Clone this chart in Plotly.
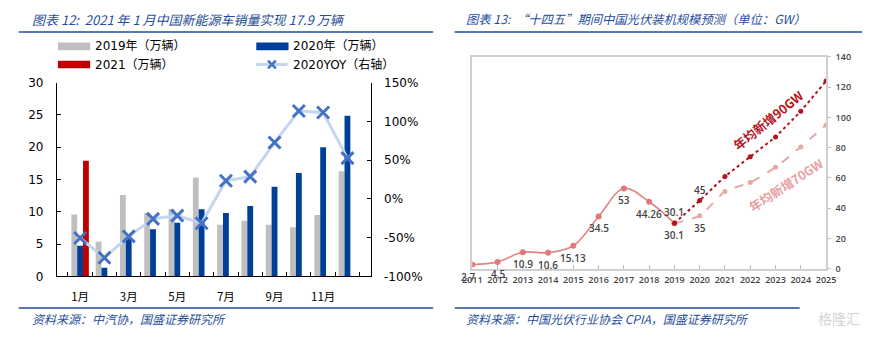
import plotly.graph_objects as go

W, H = 881, 338


def px(x):
    return x / W


def py(y):
    return 1 - y / H


# ---------------- data: left chart ----------------
months = ["1月", "2月", "3月", "4月", "5月", "6月", "7月", "8月", "9月", "10月", "11月", "12月"]
month_ticktext = ["1月", "", "3月", "", "5月", "", "7月", "", "9月", "", "11月", ""]
sales_2019 = [9.6, 5.35, 12.6, 9.8, 10.4, 15.3, 8.0, 8.6, 8.0, 7.6, 9.5, 16.3]
sales_2020 = [4.75, 1.35, 5.8, 7.3, 8.3, 10.4, 9.8, 10.9, 13.9, 16.0, 20.0, 24.9]
sales_2021 = [17.9, None, None, None, None, None, None, None, None, None, None, None]
yoy_2020 = [-50.5, -76.0, -48.4, -25.7, -21.6, -31.5, 23.5, 28.7, 72.9, 113.5, 111.6, 52.6]
left_ticks = [0, 5, 10, 15, 20, 25, 30]
right_tickvals = [-100, -50, 0, 50, 100, 150]
right_ticktext = ["-100%", "-50%", "0%", "50%", "100%", "150%"]

# ---------------- data: right chart ----------------
hist_years = [2011, 2012, 2013, 2014, 2015, 2016, 2017, 2018, 2019]
hist_vals = [2.7, 4.5, 10.9, 10.6, 15.13, 34.5, 53, 44.26, 30.1]
proj_years = [2019, 2020, 2021, 2022, 2023, 2024, 2025]
proj_90 = [30.1, 45, 61, 74, 87, 104, 124]
proj_70 = [30.1, 35, 51, 57, 67, 80.5, 95]

TITLE_BLUE = "#1f4e9c"
CJK = "Noto Sans CJK SC"
LAT = "DejaVu Sans, Noto Sans CJK SC"

fig = go.Figure()

# left chart bars
fig.add_trace(go.Bar(x=months, y=sales_2019, name="2019年（万辆）", marker=dict(color="#bfbfbf", line=dict(width=0)),
                     xaxis="x", yaxis="y"))
fig.add_trace(go.Bar(x=months, y=sales_2020, name="2020年（万辆）", marker=dict(color="#003f98", line=dict(width=0)),
                     xaxis="x", yaxis="y"))
fig.add_trace(go.Bar(x=months, y=sales_2021, name="2021（万辆）", marker=dict(color="#c00000", line=dict(width=0)),
                     xaxis="x", yaxis="y"))
fig.add_trace(go.Scatter(x=months, y=yoy_2020, name="2020YOY（右轴）", mode="lines+markers",
                         line=dict(color="#c3d5ef", width=3),
                         marker=dict(symbol="x-thin", size=12, color="#4472c4", line=dict(width=3, color="#4472c4")),
                         xaxis="x", yaxis="y2"))

# right chart lines
fig.add_trace(go.Scatter(x=hist_years, y=hist_vals, mode="lines+markers",
                         line=dict(color="#e28585", width=1.6, shape="spline", smoothing=1),
                         marker=dict(size=6, color="#e07a7a"), xaxis="x2", yaxis="y3"))
fig.add_trace(go.Scatter(x=proj_years, y=proj_70, mode="lines+markers",
                         line=dict(color="#eba5a5", width=2, dash="dash", shape="spline", smoothing=0.7),
                         marker=dict(size=5, color="#eba5a5"), xaxis="x2", yaxis="y3"))
fig.add_trace(go.Scatter(x=proj_years, y=proj_90, mode="lines+markers",
                         line=dict(color="#b5121b", width=2, dash="dot"),
                         marker=dict(size=5, color="#b5121b"), xaxis="x2", yaxis="y3"))

annotations = []
shapes = []

# titles
annotations.append(dict(xref="paper", yref="paper", x=px(20), y=py(13), xanchor="left", yanchor="middle",
                        text="图表 12:  2021 年 1 月中国新能源车销量实现 17.9 万辆", showarrow=False,
                        font=dict(family=CJK, size=13, color=TITLE_BLUE, style="italic")))
annotations.append(dict(xref="paper", yref="paper", x=px(465), y=py(13), xanchor="left", yanchor="middle",
                        text="图表 13:  “十四五”期间中国光伏装机规模预测（单位：GW）", showarrow=False,
                        font=dict(family=CJK, size=12.3, color=TITLE_BLUE, style="italic")))
# sources
annotations.append(dict(xref="paper", yref="paper", x=px(20), y=py(325), xanchor="left", yanchor="middle",
                        text="资料来源：中汽协，国盛证券研究所", showarrow=False,
                        font=dict(family=CJK, size=12, color=TITLE_BLUE, style="italic")))
annotations.append(dict(xref="paper", yref="paper", x=px(465), y=py(325), xanchor="left", yanchor="middle",
                        text="资料来源：中国光伏行业协会 CPIA，国盛证券研究所", showarrow=False,
                        font=dict(family=CJK, size=12, color=TITLE_BLUE, style="italic")))
annotations.append(dict(xref="paper", yref="paper", x=px(848), y=py(324), xanchor="center", yanchor="middle",
                        text="格隆汇", showarrow=False,
                        font=dict(family=CJK, size=14, color="#d4d4d4")))

# rules
for x0, x1, y in [(9, 433, 26), (455, 872, 26), (9, 433, 314), (455, 808, 314)]:
    shapes.append(dict(type="line", xref="paper", yref="paper", x0=px(x0), x1=px(x1), y0=py(y), y1=py(y),
                       line=dict(color=TITLE_BLUE, width=1.5)))

# manual legend (left chart)
legend_rects = [(49, 41, "#bfbfbf", "2019年（万辆）"), (252, 41, "#003f98", "2020年（万辆）"),
                (49, 60, "#c00000", "2021（万辆）")]
for x0, yc, col, label in legend_rects:
    shapes.append(dict(type="rect", xref="paper", yref="paper", x0=px(x0), x1=px(x0 + 33), y0=py(yc + 4),
                       y1=py(yc - 4), fillcolor=col, line=dict(width=0)))
    annotations.append(dict(xref="paper", yref="paper", x=px(x0 + 36), y=py(yc), xanchor="left", yanchor="middle",
                            text=label, showarrow=False, font=dict(family=LAT, size=12, color="black")))
shapes.append(dict(type="line", xref="paper", yref="paper", x0=px(252), x1=px(284), y0=py(60), y1=py(60),
                   line=dict(color="#c3d5ef", width=3)))
for dx1, dy1, dx2, dy2 in [(-4, -4, 4, 4), (-4, 4, 4, -4)]:
    shapes.append(dict(type="line", xref="paper", yref="paper", x0=px(268 + dx1), x1=px(268 + dx2),
                       y0=py(60 + dy1), y1=py(60 + dy2), line=dict(color="#4472c4", width=2.5)))
annotations.append(dict(xref="paper", yref="paper", x=px(288), y=py(60), xanchor="left", yanchor="middle",
                        text="2020YOY（右轴）", showarrow=False, font=dict(family=LAT, size=12, color="black")))

# right chart data labels
lab_font = dict(family="Open Sans, Noto Sans CJK SC", size=10, color="#444444", weight=600)
for i, (yr, v) in enumerate(zip(hist_years, hist_vals)):
    annotations.append(dict(xref="x2", yref="y3", x=yr, y=v, text=f"{v:g}", showarrow=False,
                            xanchor="center", yanchor="middle",
                            yshift=-12, xshift=(-4 if i == 0 else 0), font=lab_font))
for yr, v in zip(proj_years[:2], proj_90[:2]):
    annotations.append(dict(xref="x2", yref="y3", x=yr, y=v, text=f"{v:g}", showarrow=False,
                            xanchor="center", yanchor="middle", yshift=11, font=lab_font))
annotations.append(dict(xref="x2", yref="y3", x=proj_years[1], y=proj_70[1], text=f"{proj_70[1]:g}",
                        showarrow=False, xanchor="center", yanchor="middle", yshift=-12, font=lab_font))

annotations.append(dict(xref="paper", yref="paper", x=px(776), y=py(117), xanchor="center", yanchor="middle",
                        text="年均新增90GW", showarrow=False,
                        textangle=-39, font=dict(family=CJK, size=12.5, color="#b5121b", weight="bold")))
annotations.append(dict(xref="paper", yref="paper", x=px(794), y=py(185), xanchor="center", yanchor="middle",
                        text="年均新增70GW", showarrow=False,
                        textangle=-33, font=dict(family=CJK, size=12.5, color="#e8a0a0", weight="bold")))

small_font = dict(family="Open Sans", size=9, color="#444444", weight=600)

fig.update_layout(
    width=W, height=H, margin=dict(l=0, r=0, t=0, b=0),
    paper_bgcolor="white", plot_bgcolor="white", showlegend=False,
    barmode="group", bargap=0.28, bargroupgap=0,
    xaxis=dict(domain=[px(48), px(369)], anchor="y", type="category", tickmode="array",
               tickvals=months, ticktext=month_ticktext, tickson="boundaries", ticks="inside", ticklen=4,
               tickcolor="black", showline=True, linecolor="black", linewidth=1, showgrid=False, tickangle=0,
               tickfont=dict(family=CJK, size=11.5, color="black"), ticklabelstandoff=10),
    yaxis=dict(domain=[py(281), py(79)], anchor="x", range=[0, 30], tickvals=left_ticks, ticks="inside",
               ticklen=4, tickcolor="black", showline=True, linecolor="black", linewidth=1, showgrid=False,
               zeroline=False, tickfont=dict(family="DejaVu Sans", size=12, color="black"),
               ticklabelstandoff=10),
    yaxis2=dict(overlaying="y", side="right", anchor="x", range=[-100, 150], tickvals=right_tickvals,
                ticktext=right_ticktext, ticks="inside", ticklen=4, tickcolor="black", showline=True,
                linecolor="black", linewidth=1, showgrid=False, zeroline=False,
                tickfont=dict(family="DejaVu Sans", size=12, color="black"), ticklabelstandoff=10),
    xaxis2=dict(domain=[px(473), px(835)], anchor="y3", range=[2011, 2025], tickmode="linear", tick0=2011, dtick=1,
                ticks="inside", ticklen=4, tickcolor="#bbbbbb", showline=True, mirror=True, linecolor="#d0d0d0",
                linewidth=1.5, showgrid=False, zeroline=False, tickfont=small_font, ticklabelstandoff=2,
                tickangle=0),
    yaxis3=dict(domain=[py(273), py(52)], anchor="x2", side="right", range=[0, 140], dtick=20,
                ticks="outside", ticklen=3, tickcolor="#bbbbbb", showline=True, mirror=True, linecolor="#d0d0d0",
                linewidth=1.5, showgrid=False, zeroline=False, tickfont=small_font, ticklabelstandoff=3),
    annotations=annotations, shapes=shapes,
)

fig.write_html("out.html")
